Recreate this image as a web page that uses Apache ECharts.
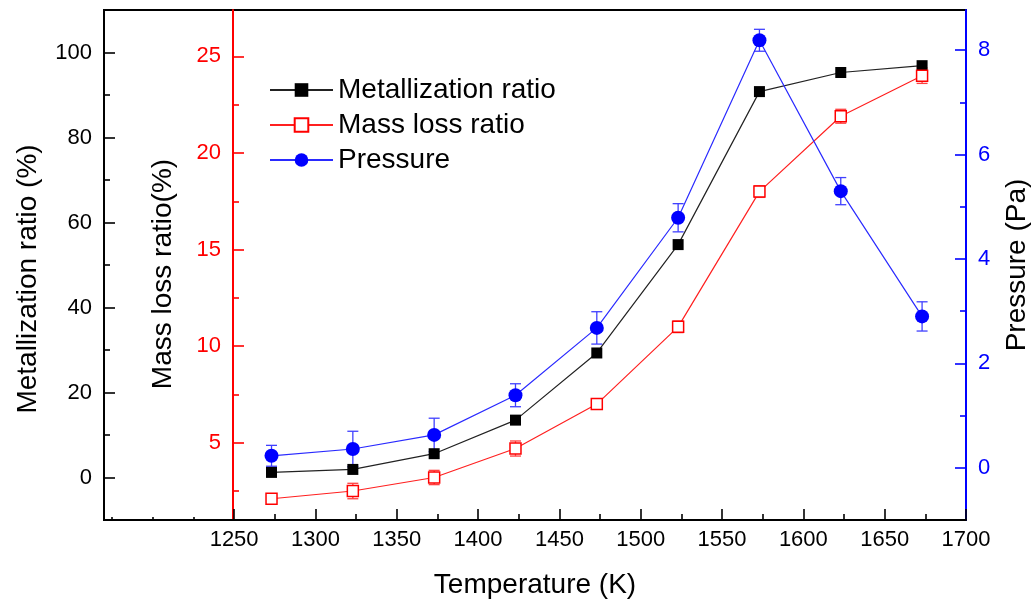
<!DOCTYPE html>
<html>
<head>
<meta charset="utf-8">
<script src="https://cdn.jsdelivr.net/npm/echarts@6/dist/echarts.min.js"></script>
<style>
  html, body { margin: 0; padding: 0; background: #fff; }
  #chart { width: 1036px; height: 602px; }
</style>
</head>
<body>
<div id="chart"></div>
<script>
// data
var temps = [1273, 1323, 1373, 1423, 1473, 1523, 1573, 1623, 1673];
var metal = [1.2, 1.9, 5.6, 13.5, 29.3, 54.8, 90.8, 95.3, 96.9];
var massLoss = [2.1, 2.5, 3.2, 4.7, 7.0, 11.0, 18.0, 21.9, 24.0];
var massErr = [0.1, 0.4, 0.37, 0.39, 0.15, 0.3, 0.3, 0.36, 0.4];
var pressure = [0.23, 0.36, 0.63, 1.39, 2.68, 4.79, 8.19, 5.30, 2.90];
var pressErr = [0.2, 0.34, 0.32, 0.22, 0.31, 0.27, 0.21, 0.26, 0.28];

// tick labels
var xTicks = [1250, 1300, 1350, 1400, 1450, 1500, 1550, 1600, 1650, 1700];
var xMinor = [1275, 1325, 1375, 1425, 1475, 1525, 1575, 1625, 1675];
var xMinorLeft = [1175, 1200, 1225];   // 1250以左的小刻度更短
var metalTicks = [0, 20, 40, 60, 80, 100];
var metalMinor = [10, 30, 50, 70, 90];
var massTicks = [5, 10, 15, 20, 25];
var massMinor = [2.5, 7.5, 12.5, 17.5, 22.5];
var pressTicks = [0, 2, 4, 6, 8];
var pressMinor = [1, 3, 5, 7];

var FONT = 'Liberation Sans, Arial, sans-serif';

function pairs(xs, ys) {
    return xs.map(function (x, i) { return [x, ys[i]]; });
}
function errRows(xs, ys, es) {
    return xs.map(function (x, i) { return [x, ys[i] - es[i], ys[i] + es[i]]; });
}

function errorBar(color) {  // 误差线
    return function (params, api) {
        var x = api.value(0);
        var top = api.coord([x, api.value(2)]);
        var bot = api.coord([x, api.value(1)]);
        var w = 5.5;
        var st = { stroke: color, lineWidth: 1.3 };
        return {
            type: 'group',
            children: [
                { type: 'line', shape: { x1: top[0], y1: top[1], x2: bot[0], y2: bot[1] }, style: st },
                { type: 'line', shape: { x1: top[0] - w, y1: top[1], x2: top[0] + w, y2: top[1] }, style: st },
                { type: 'line', shape: { x1: bot[0] - w, y1: bot[1], x2: bot[0] + w, y2: bot[1] }, style: st }
            ]
        };
    };
}

function plain(v) { return String(v); }

function yAxisMajor(o) {
    return {
        type: 'value',
        position: o.position,
        offset: o.offset || 0,
        min: o.min,
        max: o.max,
        name: o.name,
        nameLocation: 'middle',
        nameRotate: 90,
        nameGap: o.nameGap,
        nameTextStyle: { color: '#000', fontSize: 28, fontFamily: FONT, padding: o.namePad || 0 },
        axisLine: { show: true, onZero: false, lineStyle: { color: o.color, width: 2 } },
        axisTick: { show: true, inside: true, length: 11, customValues: o.ticks, lineStyle: { color: o.color, width: 1.6 } },
        axisLabel: { show: true, customValues: o.ticks, margin: 12, color: o.color, fontSize: 22, fontFamily: FONT, formatter: plain },
        splitLine: { show: false }
    };
}

function yAxisMinor(o) {
    return {
        type: 'value',
        position: o.position,
        offset: o.offset || 0,
        min: o.min,
        max: o.max,
        axisLine: { show: false, onZero: false },
        axisTick: { show: true, inside: true, length: 6, customValues: o.ticks, lineStyle: { color: o.color, width: 1.6 } },
        axisLabel: { show: false },
        splitLine: { show: false }
    };
}

function xAxisMinor(ticks, len) {
    return {
        type: 'value',
        position: 'bottom',
        min: 1170,
        max: 1700,
        axisLine: { show: false, onZero: false },
        axisTick: { show: true, inside: true, length: len, customValues: ticks, lineStyle: { color: '#000', width: 1.6 } },
        axisLabel: { show: false },
        splitLine: { show: false }
    };
}

var myChart = echarts.init(document.getElementById('chart'));
var option = {
    backgroundColor: '#fff',
    animation: false,
    textStyle: { fontFamily: FONT },
    grid: {
        left: 104, right: 70, top: 10, bottom: 82,
        show: true, borderColor: '#000', borderWidth: 2,
        containLabel: false,
        outerBoundsMode: 'none'
    },
    legend: {
        orient: 'vertical',
        left: 264,
        top: 70,
        itemWidth: 63,
        itemHeight: 17,
        itemGap: 5,
        textStyle: { color: '#000', fontSize: 28, lineHeight: 30, fontFamily: FONT },
        data: ['Metallization ratio', 'Mass loss ratio', 'Pressure']
    },
    xAxis: [{
        type: 'value',
        position: 'bottom',
        min: 1170,
        max: 1700,
        name: 'Temperature (K)',
        nameLocation: 'middle',
        nameGap: 51,
        nameTextStyle: { color: '#000', fontSize: 28, fontFamily: FONT },
        axisLine: { show: true, onZero: false, lineStyle: { color: '#000', width: 2 } },
        axisTick: { show: true, inside: true, length: 11, customValues: xTicks, lineStyle: { color: '#000', width: 1.6 } },
        axisLabel: { show: true, customValues: xTicks, margin: 9, color: '#000', fontSize: 22, fontFamily: FONT, formatter: plain },
        splitLine: { show: false }
    },
        xAxisMinor(xMinor, 6),
        xAxisMinor(xMinorLeft, 3)
    ],
    yAxis: [
        yAxisMajor({ position: 'left', min: -10, max: 110, color: '#000', ticks: metalTicks,
            name: 'Metallization ratio (%)', nameGap: 62, namePad: [0, 28, 0, 0] }),
        yAxisMinor({ position: 'left', min: -10, max: 110, color: '#000', ticks: metalMinor }),
        yAxisMajor({ position: 'left', offset: -129, min: 1, max: 27.4, color: '#ff0000', ticks: massTicks,
            name: 'Mass loss ratio(%)', nameGap: 56, namePad: [0, 18, 0, 0] }),
        yAxisMinor({ position: 'left', offset: -129, min: 1, max: 27.4, color: '#ff0000', ticks: massMinor }),
        yAxisMajor({ position: 'right', min: -1, max: 8.77, color: '#0000ff', ticks: pressTicks,
            name: 'Pressure (Pa)', nameGap: 37 }),
        yAxisMinor({ position: 'right', min: -1, max: 8.77, color: '#0000ff', ticks: pressMinor })
    ],
    series: [{
        name: 'Mass loss ratio err',
        type: 'custom',
        xAxisIndex: 0,
        yAxisIndex: 2,
        renderItem: errorBar('#ff4040'),
        encode: { x: 0, y: [1, 2] },
        data: errRows(temps, massLoss, massErr),
        z: 1
    }, {
        name: 'Pressure err',
        type: 'custom',
        xAxisIndex: 0,
        yAxisIndex: 4,
        renderItem: errorBar('#4040ff'),
        encode: { x: 0, y: [1, 2] },
        data: errRows(temps, pressure, pressErr),
        z: 1
    }, {
        name: 'Metallization ratio',
        type: 'line',
        xAxisIndex: 0,
        yAxisIndex: 0,
        symbol: 'rect',
        symbolSize: 11,
        itemStyle: { color: '#000' },
        lineStyle: { color: '#222', width: 1.2 },
        data: pairs(temps, metal),
        z: 3
    }, {
        name: 'Mass loss ratio',
        type: 'line',
        xAxisIndex: 0,
        yAxisIndex: 2,
        symbol: 'rect',
        symbolSize: 11,
        itemStyle: { color: '#fff', borderColor: '#ff0000', borderWidth: 1.5 },
        lineStyle: { color: '#ff2020', width: 1.2 },
        data: pairs(temps, massLoss),
        z: 3
    }, {
        name: 'Pressure',
        type: 'line',
        xAxisIndex: 0,
        yAxisIndex: 4,
        symbol: 'circle',
        symbolSize: 14,
        itemStyle: { color: '#0000ff' },
        lineStyle: { color: '#2a2aff', width: 1.2 },
        data: pairs(temps, pressure),
        z: 3
    }]
};
myChart.setOption(option);
</script>
</body>
</html>
